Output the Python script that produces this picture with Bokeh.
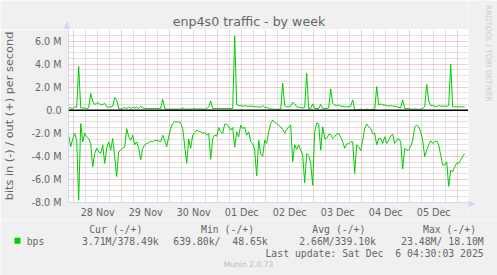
import math
from bokeh.plotting import figure
from bokeh.layouts import column, row
from bokeh.models import FixedTicker, Span, Range1d
from bokeh.core.properties import value
from bokeh.embed import file_html
from bokeh.resources import INLINE

# ---------------- data ----------------
# hourly samples; hours relative to 28 Nov 00:00
FIRST_SAMPLE_HOUR = -2.5
SAMPLE_STEP_HOURS = 1.0

# out (+) in Mbit/s
out_mbps = [
    0.2, 0.2, 0.15, 0.3, 0.25, 3.8, 0.2, 0.2, 0.2, 0.15,
    0.2, 1.45, 0.8, 0.5, 0.6, 0.65, 0.45, 0.5, 0.6, 0.3,
    0.25, 0.3, 0.35, 1.1, 0.9, 0.15, 0.1, 0.15, 0.25, 0.15,
    0.3, 0.15, 0.25, 0.2, 0.25, 0.15, 0.35, 0.2, 0.15, 0.15,
    0.15, 0.15, 0.15, 0.15, 0.15, 0.15, 0.15, 0.95, 0.15, 0.1,
    0.1, 0.1, 0.1, 0.1, 0.1, 0.1, 0.1, 0.2, 0.1, 0.1,
    0.12, 0.1, 0.1, 0.15, 0.1, 0.1, 0.12, 0.1, 0.1, 0.15,
    0.3, 0.8, 0.15, 0.15, 0.15, 0.15, 0.15, 0.15, 0.15, 0.15,
    0.15, 0.15, 0.15, 6.45, 0.5, 0.4, 0.4, 0.35, 0.4, 0.35,
    0.35, 0.35, 0.35, 0.3, 0.3, 0.3, 0.25, 0.4, 0.25, 0.25,
    0.15, 0.1, 0.1, 0.1, 0.05, 0.1, 0.1, 2.35, 0.4, 0.3,
    0.3, 0.35, 0.7, 0.55, 0.3, 0.25, 0.25, 0.2, 0.25, 3.2,
    0.15, 0.15, 0.55, 0.15, 0.15, 0.15, 0.5, 0.15, 0.15, 0.15,
    0.2, 1.85, 0.6, 0.45, 0.4, 0.45, 0.35, 0.35, 0.3, 0.3,
    0.3, 0.35, 0.9, 0.05, 0.05, 0.05, 0.1, 0.05, 0.05, 0.1,
    0.05, 0.05, 0.1, 0.05, 2.05, 0.45, 0.55, 0.45, 0.45, 0.4,
    0.35, 0.4, 0.35, 0.35, 0.3, 0.25, 0.2, 0.9, 0.15, 0.15,
    0.15, 0.1, 0.1, 0.1, 0.1, 0.05, 0.1, 0.15, 0.3, 2.25,
    0.8, 0.4, 0.4, 0.35, 0.3, 0.4, 0.35, 0.35, 0.35, 0.35,
    0.4, 4.0, 0.3, 0.3, 0.3, 0.3, 0.3, 0.3, 0.3,
]

# in (-) in Mbit/s (magnitude, drawn below zero)
in_mbps = [
    2.16, 3.17, 2.5, 2.0, 2.6, 7.8, 1.15, 2.74, 2.0, 2.3,
    2.45, 2.88, 4.9, 3.75, 3.3, 3.6, 3.75, 3.0, 4.6, 3.3,
    2.74, 3.46, 2.45, 4.03, 5.75, 3.6, 3.46, 3.3, 3.17, 1.6,
    2.3, 2.6, 2.16, 3.0, 2.74, 3.3, 4.3, 3.3, 3.0, 2.88,
    2.82, 2.68, 2.74, 2.6, 2.65, 2.65, 2.74, 2.16, 2.6, 3.17,
    2.3, 1.58, 1.15, 1.0, 1.0, 1.03, 1.1, 1.6, 3.1, 4.6,
    2.5, 3.3, 2.16, 1.95, 1.73, 1.82, 1.87, 2.0, 1.93, 2.16,
    2.0, 4.25, 2.45, 2.16, 2.25, 1.5, 1.87, 2.02, 1.2, 1.2,
    1.44, 1.73, 1.5, 3.2, 1.87, 2.3, 1.3, 1.58, 1.5, 2.16,
    1.87, 2.74, 2.88, 3.46, 5.7, 2.6, 3.8, 4.0, 2.6, 2.88,
    1.9, 1.15, 0.86, 1.06, 1.15, 1.3, 1.44, 1.67, 2.0, 1.67,
    1.44, 1.3, 4.45, 3.0, 3.4, 3.0, 3.46, 3.9, 6.3, 3.75,
    3.9, 4.6, 6.5, 1.9, 1.1, 1.2, 3.46, 1.44, 2.45, 2.45,
    2.1, 2.1, 2.45, 2.3, 2.07, 2.0, 2.36, 2.74, 3.3, 2.94,
    2.88, 2.74, 2.74, 5.47, 3.0, 3.17, 3.5, 2.6, 1.58, 1.2,
    1.44, 1.58, 2.02, 2.02, 3.0, 2.45, 2.45, 2.88, 2.3, 2.88,
    2.6, 2.25, 2.07, 2.88, 2.6, 2.45, 2.74, 5.1, 3.3, 3.46,
    3.46, 3.17, 2.6, 1.44, 1.3, 1.44, 1.87, 2.6, 4.03, 3.46,
    3.02, 2.65, 2.88, 2.74, 2.65, 3.0, 3.9, 4.75, 4.75, 4.47,
    6.6, 5.2, 5.33, 4.9, 4.6, 4.6, 4.3, 4.0, 3.75,
]

day_labels = ["28 Nov", "29 Nov", "30 Nov", "01 Dec", "02 Dec", "03 Dec", "04 Dec", "05 Dec"]
day_label_hours = [12, 36, 60, 84, 108, 132, 156, 180]
day_start_hours = [0, 24, 48, 72, 96, 120, 144, 168, 192]

y_tick_values = [-8, -6, -4, -2, 0, 2, 4, 6]
y_tick_labels = ["-8.0 M", "-6.0 M", "-4.0 M", "-2.0 M", "0.0", "2.0 M", "4.0 M", "6.0 M"]

series_name = "bps"
legend_headers = ["Cur (-/+)", "Min (-/+)", "Avg (-/+)", "Max (-/+)"]
legend_values = ["3.71M/378.49k", "639.80k/\u00a0\u00a048.65k", "2.66M/339.10k", "23.48M/\u00a018.10M"]
title_text = "enp4s0 traffic - by week"
y_axis_title = "bits in (-) / out (+) per second"
last_update_text = "Last update: Sat Dec \u00a06 04:30:03 2025"
footer_text = "Munin 2.0.73"
watermark_text = "RRDTOOL / TOBI OETIKER"

# ---------------- styling ----------------
FONT = "DejaVu Sans"
MONO = "DejaVu Sans Mono"
TEXT_C = "#666666"
AXIS_C = "#CFD6F8"
LINE_C = "#00CC00"
BACK_C = "#F0F0F0"


def strip(w, h, x0, x1, y0, y1):
    """A plain background panel whose data space equals canvas pixels."""
    f = figure(width=w, height=h, output_backend="svg", toolbar_location=None,
               x_range=Range1d(x0, x1), y_range=Range1d(y1, y0),
               x_axis_location=None, y_axis_location=None, min_border=0)
    f.background_fill_color = BACK_C
    f.border_fill_color = BACK_C
    f.outline_line_color = None
    f.grid.visible = False
    f.frame_align = False
    return f


hours = [FIRST_SAMPLE_HOUR + SAMPLE_STEP_HOURS * i for i in range(len(out_mbps))]
in_neg = [-v for v in in_mbps]

# ---------------- title strip (with the y-axis arrow head) ----------------
top = strip(468, 29, 0, 468, 0, 29)
top.text(x=[248.5], y=[20.8], text=[title_text], text_align="center", text_baseline="alphabetic",
         text_font=value(FONT), text_font_size=value("12.6px"), text_color=TEXT_C)
top.patch(x=[63.5, 69.5, 66.5], y=[29, 29, 22], fill_color=AXIS_C, line_color=AXIS_C)

# ---------------- main graph ----------------
p = figure(width=468, height=191, output_backend="svg", toolbar_location=None,
           x_range=Range1d(-2.6, 197.4), y_range=Range1d(-8, 7),
           min_border_left=67, min_border_right=0, min_border_top=0, min_border_bottom=17)
p.background_fill_color = "#FFFFFF"
p.border_fill_color = BACK_C
p.outline_line_color = None
p.frame_align = False

minor_x = [h for h in range(0, 198, 6) if h % 24 != 0]
p.xgrid.ticker = FixedTicker(ticks=day_start_hours, minor_ticks=minor_x)
minor_y = [k * 0.5 for k in range(-16, 15) if (k * 0.5) % 2 != 0]
p.ygrid.ticker = FixedTicker(ticks=y_tick_values, minor_ticks=minor_y)
for g in (p.xgrid, p.ygrid):
    g.grid_line_color = "#DE5050"
    g.grid_line_alpha = 0.6
    g.grid_line_dash = "1 1"
    g.minor_grid_line_color = "#B8B8B8"
    g.minor_grid_line_alpha = 0.8
    g.minor_grid_line_dash = "1 1"

p.xaxis.ticker = FixedTicker(ticks=day_label_hours)
p.xaxis.major_label_overrides = dict(zip(day_label_hours, day_labels))
p.yaxis.ticker = FixedTicker(ticks=y_tick_values)
p.yaxis.major_label_overrides = dict(zip(y_tick_values, y_tick_labels))
for ax in (p.xaxis, p.yaxis):
    ax.axis_line_color = AXIS_C
    ax.major_tick_line_color = None
    ax.minor_tick_line_color = None
    ax.major_tick_out = 0
    ax.major_tick_in = 0
    ax.major_label_text_font = FONT
    ax.major_label_text_font_size = "9.6px"
    ax.major_label_text_color = TEXT_C
p.xaxis.major_label_standoff = 4
p.yaxis.major_label_standoff = 7
p.yaxis.axis_label = y_axis_title
p.yaxis.axis_label_text_font = FONT
p.yaxis.axis_label_text_font_size = "11.3px"
p.yaxis.axis_label_text_font_style = "normal"
p.yaxis.axis_label_text_color = TEXT_C
p.yaxis.axis_label_standoff = 12

p.line(hours, out_mbps, line_color=LINE_C, line_width=1)
p.line(hours, in_neg, line_color=LINE_C, line_width=1)
p.add_layout(Span(location=0, dimension="width", line_color="#000000", line_width=1.3))

# ---------------- right strip (watermark + x-axis arrow head) ----------------
side = strip(29, 220, 468, 497, 0, 220)
side.text(x=[488], y=[53], text=[watermark_text], text_align="center", text_baseline="middle",
          angle=-math.pi / 2, text_font=value(FONT), text_font_size=value("7.5px"), text_color="#CCCCCC")
side.patch(x=[468, 468, 474], y=[200.5, 206.5, 203.5], fill_color=AXIS_C, line_color=AXIS_C)

# ---------------- legend / footer strip ----------------
q = strip(497, 55, 0, 497, 220, 275)
q.quad(left=[14], right=[20], top=[237.3], bottom=[243.3], fill_color=LINE_C, line_color=None)
mono = dict(text_font=value(MONO), text_font_size=value("9.8px"), text_color=TEXT_C,
            text_baseline="alphabetic")
q.text(x=[26.2], y=[240.8], text=[series_name], text_align="left", **mono)
q.text(x=[88.7, 200.5, 311.8, 422.5], y=[228.5] * 4, text=legend_headers, text_align="left", **mono)
q.text(x=[158.2, 267.2, 375.5, 483.2], y=[240.8] * 4, text=legend_values, text_align="right", **mono)
q.text(x=[483.2], y=[252.8], text=[last_update_text], text_align="right", **mono)
q.text(x=[248], y=[264.3], text=[footer_text], text_align="center", text_baseline="alphabetic",
       text_font=value(FONT), text_font_size=value("7.6px"), text_color="#BBBBBB")

layout = column(row(column(top, p, spacing=0), side, spacing=0), q, spacing=0)
open("out.html", "w").write(file_html(layout, INLINE))
